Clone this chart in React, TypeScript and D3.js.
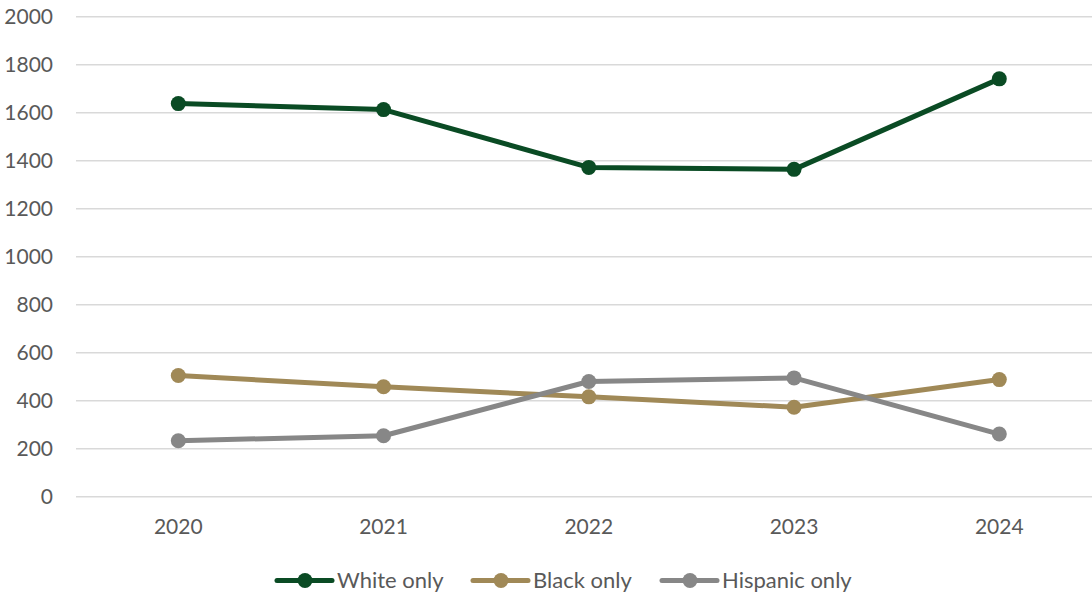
import React from "react";
import * as d3 from "d3";

const years = ["2020", "2021", "2022", "2023", "2024"];
const whiteOnly = [1638, 1613, 1372, 1364, 1741];
const blackOnly = [505, 458, 416, 373, 488];
const hispanicOnly = [233, 254, 480, 495, 261];
const yTicks = [0, 200, 400, 600, 800, 1000, 1200, 1400, 1600, 1800, 2000];

const series = [
  { name: "White only", values: whiteOnly, color: "#0A4B24" },
  { name: "Black only", values: blackOnly, color: "#A08957" },
  { name: "Hispanic only", values: hispanicOnly, color: "#878787" },
];

const W = 1092;
const H = 595;
const FONT = "Lato, 'Open Sans', sans-serif";

export default function App() {
  const x = d3.scalePoint<string>().domain(years).range([178.3, 999.3]);
  const y = d3.scaleLinear().domain([0, 2000]).range([496.7, 16.7]);
  const line = d3
    .line<number>()
    .x((_, i) => x(years[i]) as number)
    .y((d) => y(d));

  const legendItems = [
    { lx: 277, tx: 337 },
    { lx: 473, tx: 533 },
    { lx: 662, tx: 722 },
  ];

  return (
    <svg
      width={W}
      height={H}
      style={{ position: "absolute", left: 0, top: 0, background: "#fff" }}
      fontFamily={FONT}
    >
      {yTicks.map((t) => (
        <g key={t}>
          <line x1={76} x2={W} y1={y(t)} y2={y(t)} stroke="#D9D9D9" strokeWidth={1.5} />
          <text
            x={53}
            y={y(t)}
            dy="0.35em"
            textAnchor="end"
            fontSize={21}
            fill="#595959"
          >
            {t}
          </text>
        </g>
      ))}
      {years.map((yr) => (
        <text
          key={yr}
          x={x(yr)}
          y={527}
          dy="0.35em"
          textAnchor="middle"
          fontSize={21}
          fill="#595959"
        >
          {yr}
        </text>
      ))}
      {series.map((s) => (
        <g key={s.name}>
          <path
            d={line(s.values) || ""}
            fill="none"
            stroke={s.color}
            strokeWidth={5}
            strokeLinejoin="round"
            strokeLinecap="round"
          />
          {s.values.map((v, i) => (
            <circle key={i} cx={x(years[i])} cy={y(v)} r={7.5} fill={s.color} />
          ))}
        </g>
      ))}
      {series.map((s, i) => {
        const it = legendItems[i];
        return (
          <g key={s.name}>
            <line
              x1={it.lx}
              x2={it.lx + 55}
              y1={580.5}
              y2={580.5}
              stroke={s.color}
              strokeWidth={5}
              strokeLinecap="round"
            />
            <circle cx={it.lx + 28} cy={580.5} r={7.5} fill={s.color} />
            <text x={it.tx} y={580.5} dy="0.35em" fontSize={22} fill="#595959">
              {s.name}
            </text>
          </g>
        );
      })}
    </svg>
  );
}
